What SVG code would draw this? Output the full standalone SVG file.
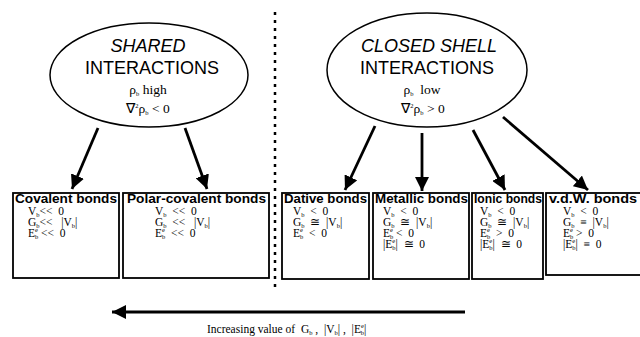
<svg xmlns="http://www.w3.org/2000/svg" width="640" height="337" viewBox="0 0 640 337">
<defs>
<marker id="ah" markerUnits="userSpaceOnUse" markerWidth="16" markerHeight="14" refX="14" refY="7" orient="auto">
<path d="M0,0 L14,7 L0,14 Z" fill="#000"/>
</marker>
</defs>
<style>
.ell{fill:#fff;stroke:#000;stroke-width:1.5}
.box{fill:#fff;stroke:#000;stroke-width:1.8}
.h1{font-family:"Liberation Sans",Arial,sans-serif;font-size:18px;text-anchor:middle}
.it{font-style:italic}
.f{font-family:"Liberation Serif","Times New Roman",serif;font-size:13.5px;text-anchor:middle}
.t{font-family:"Liberation Sans",Arial,sans-serif;font-size:13px;font-weight:bold}
.m{font-family:"Liberation Serif","Times New Roman",serif;font-size:11.5px}
.s{font-size:6.5px}
.arr{stroke:#000;stroke-width:2.8;fill:none;marker-end:url(#ah)}
</style>
<rect width="640" height="337" fill="#fff"/>

<g id="shared">
<ellipse class="ell" cx="149" cy="75" rx="99" ry="52"/>
<text class="h1 it" x="148" y="52">SHARED</text>
<text class="h1" x="152" y="74">INTERACTIONS</text>
<text class="f" x="148" y="94">ρ<tspan class="s" dy="2">b</tspan><tspan dy="-2">&#160;high</tspan></text>
<text class="f" x="148" y="113">∇<tspan class="s" dy="-5">2</tspan><tspan dy="5">ρ</tspan><tspan class="s" dy="2">b</tspan><tspan dy="-2">&#160;&lt; 0</tspan></text>
</g>

<g id="closed">
<ellipse class="ell" cx="427" cy="70" rx="100" ry="57"/>
<text class="h1 it" x="429" y="52">CLOSED SHELL</text>
<text class="h1" x="427" y="74">INTERACTIONS</text>
<text class="f" x="422" y="94">ρ<tspan class="s" dy="2">b</tspan><tspan dy="-2">&#160;&#160;low</tspan></text>
<text class="f" x="423" y="113">∇<tspan class="s" dy="-5">2</tspan><tspan dy="5">ρ</tspan><tspan class="s" dy="2">b</tspan><tspan dy="-2">&#160;&gt; 0</tspan></text>
</g>

<g id="connectors">
<line class="arr" x1="98" y1="128" x2="72" y2="189"/>
<line class="arr" x1="185" y1="128" x2="207" y2="189"/>
<line class="arr" x1="375" y1="126" x2="345" y2="190"/>
<line class="arr" x1="422" y1="133" x2="422" y2="191"/>
<line class="arr" x1="473" y1="130" x2="505" y2="190"/>
<line class="arr" x1="503" y1="117" x2="588" y2="190"/>
<line class="arr" x1="465" y1="312" x2="112" y2="312"/>
</g>

<g id="divider">
<line x1="275" y1="12" x2="275" y2="290" stroke="#000" stroke-width="2.5" stroke-dasharray="3,5"/>
</g>

<g id="covalent">
<rect class="box" x="13" y="193" width="106" height="85"/>
<text class="t" x="15" y="203" textLength="102" lengthAdjust="spacingAndGlyphs">Covalent bonds</text>
<text class="m" x="28" y="215">V<tspan class="s" dy="2">b</tspan><tspan dy="-2">&lt;&lt;&#160;&#160;0</tspan></text>
<text class="m" x="28" y="226">G<tspan class="s" dy="2">b</tspan><tspan dy="-2">&lt;&lt;&#160;&#160;&#160;|V</tspan><tspan class="s" dy="2">b</tspan><tspan dy="-2">|</tspan></text>
<text class="m" x="28" y="237">E<tspan class="s" dy="-5">e</tspan><tspan class="s" dx="-3" dy="7">b</tspan><tspan dy="-2">&#160;&lt;&lt;&#160;&#160;0</tspan></text>
</g>

<g id="polar">
<rect class="box" x="123" y="193" width="146" height="85"/>
<text class="t" x="127" y="203" textLength="139" lengthAdjust="spacingAndGlyphs">Polar-covalent bonds</text>
<text class="m" x="155" y="215">V<tspan class="s" dy="2">b</tspan><tspan dy="-2">&#160;&#160;&lt;&lt;&#160;&#160;0</tspan></text>
<text class="m" x="155" y="226">G<tspan class="s" dy="2">b</tspan><tspan dy="-2">&#160;&#160;&lt;&lt;&#160;&#160;&#160;|V</tspan><tspan class="s" dy="2">b</tspan><tspan dy="-2">|</tspan></text>
<text class="m" x="155" y="237">E<tspan class="s" dy="-5">e</tspan><tspan class="s" dx="-3" dy="7">b</tspan><tspan dy="-2">&#160;&#160;&lt;&lt;&#160;&#160;0</tspan></text>
</g>

<g id="dative">
<rect class="box" x="282" y="193" width="87" height="86"/>
<text class="t" x="284" y="203" textLength="83" lengthAdjust="spacingAndGlyphs">Dative bonds</text>
<text class="m" x="293" y="215">V<tspan class="s" dy="2">b</tspan><tspan dy="-2">&#160;&#160;&lt;&#160;&#160;0</tspan></text>
<text class="m" x="293" y="226">G<tspan class="s" dy="2">b</tspan><tspan dy="-2">&#160;&#160;≅&#160;&#160;|V</tspan><tspan class="s" dy="2">b</tspan><tspan dy="-2">|</tspan></text>
<text class="m" x="293" y="237">E<tspan class="s" dy="-5">e</tspan><tspan class="s" dx="-3" dy="7">b</tspan><tspan dy="-2">&#160;&#160;&lt;&#160;&#160;0</tspan></text>
</g>

<g id="metallic">
<rect class="box" x="373" y="193" width="96" height="86"/>
<text class="t" x="375" y="203" textLength="93" lengthAdjust="spacingAndGlyphs">Metallic bonds</text>
<text class="m" x="383" y="215">V<tspan class="s" dy="2">b</tspan><tspan dy="-2">&#160;&#160;&lt;&#160;&#160;0</tspan></text>
<text class="m" x="383" y="226">G<tspan class="s" dy="2">b</tspan><tspan dy="-2">&#160;&#160;≅&#160;&#160;|V</tspan><tspan class="s" dy="2">b</tspan><tspan dy="-2">|</tspan></text>
<text class="m" x="383" y="237">E<tspan class="s" dy="-5">e</tspan><tspan class="s" dx="-3" dy="7">b</tspan><tspan dy="-2">&#160;&lt;&#160;&#160;0</tspan></text>
<text class="m" x="383" y="248">|E<tspan class="s" dy="-5">e</tspan><tspan class="s" dx="-3" dy="7">b</tspan><tspan dy="-2">|&#160;&#160;≅&#160;&#160;0</tspan></text>
</g>

<g id="ionic">
<rect class="box" x="472" y="193" width="71" height="86"/>
<text class="t" x="474" y="203" textLength="68" lengthAdjust="spacingAndGlyphs">Ionic bonds</text>
<text class="m" x="480" y="215">V<tspan class="s" dy="2">b</tspan><tspan dy="-2">&#160;&#160;&lt;&#160;&#160;0</tspan></text>
<text class="m" x="480" y="226">G<tspan class="s" dy="2">b</tspan><tspan dy="-2">&#160;&#160;≅&#160;&#160;|V</tspan><tspan class="s" dy="2">b</tspan><tspan dy="-2">|</tspan></text>
<text class="m" x="480" y="237">E<tspan class="s" dy="-5">e</tspan><tspan class="s" dx="-3" dy="7">b</tspan><tspan dy="-2">&#160;&#160;&gt;&#160;&#160;0</tspan></text>
<text class="m" x="480" y="248">|E<tspan class="s" dy="-5">e</tspan><tspan class="s" dx="-3" dy="7">b</tspan><tspan dy="-2">|&#160;&#160;≅&#160;&#160;0</tspan></text>
</g>

<g id="vdw">
<rect class="box" x="546" y="193" width="100" height="82"/>
<text class="t" x="549" y="203" textLength="88" lengthAdjust="spacingAndGlyphs">v.d.W. bonds</text>
<text class="m" x="563" y="215">V<tspan class="s" dy="2">b</tspan><tspan dy="-2">&#160;&#160;&lt;&#160;&#160;0</tspan></text>
<text class="m" x="563" y="226">G<tspan class="s" dy="2">b</tspan><tspan dy="-2">&#160;&#160;≡&#160;&#160;|V</tspan><tspan class="s" dy="2">b</tspan><tspan dy="-2">|</tspan></text>
<text class="m" x="563" y="237">E<tspan class="s" dy="-5">e</tspan><tspan class="s" dx="-3" dy="7">b</tspan><tspan dy="-2">&#160;&gt;&#160;&#160;0</tspan></text>
<text class="m" x="563" y="248">|E<tspan class="s" dy="-5">e</tspan><tspan class="s" dx="-3" dy="7">b</tspan><tspan dy="-2">|&#160;&#160;≡&#160;&#160;0</tspan></text>
</g>

<g id="axis-label">
<text class="m" x="207" y="333" font-size="12.5">Increasing value of&#160;&#160;G<tspan class="s" dy="2">b</tspan><tspan dy="-2">&#160;,&#160;&#160;|V</tspan><tspan class="s" dy="2">b</tspan><tspan dy="-2">|&#160;,&#160;&#160;|E</tspan><tspan class="s" dy="-5">e</tspan><tspan class="s" dx="-3" dy="7">b</tspan><tspan dy="-2">|</tspan></text>
</g>
</svg>
